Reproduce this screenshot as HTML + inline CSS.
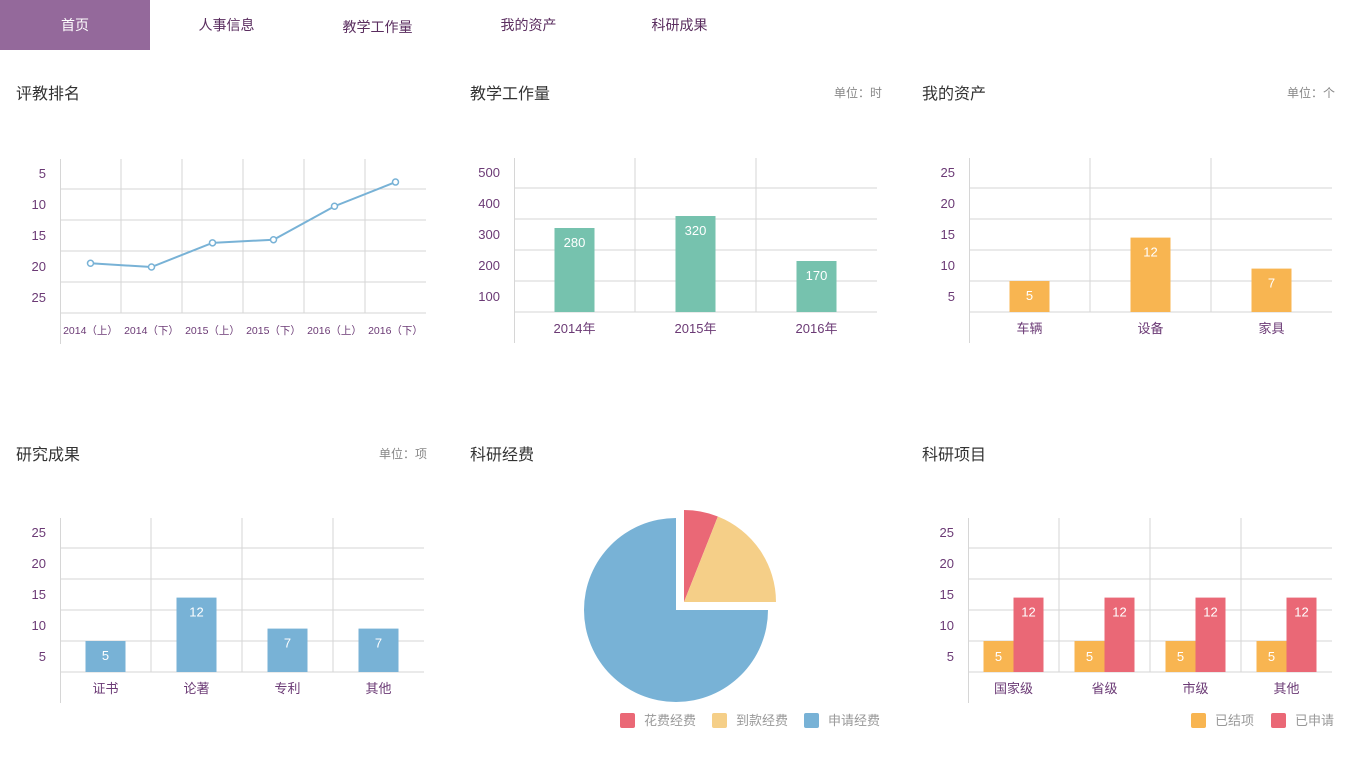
<!DOCTYPE html>
<html><head><meta charset="utf-8">
<style>
body{margin:0;width:1353px;height:770px;background:#fff;font-family:"Liberation Sans","Noto Sans CJK SC",sans-serif;overflow:hidden;position:relative}
.nav{position:absolute;top:0;left:0;height:50px;width:1353px}
.tab{position:absolute;top:0;height:50px;width:151px;line-height:50px;text-align:center;font-size:14px;color:#5a2d5f}
.tab.active{background:#94699b;color:#fff;width:150px}
.title{position:absolute;font-size:16px;color:#333}
.unit{position:absolute;font-size:12px;color:#888}
svg{position:absolute;left:0;top:0}
</style></head><body>
<div class="nav">
<div class="tab active" style="left:0">首页</div>
<div class="tab" style="left:151px">人事信息</div>
<div class="tab" style="left:302px;top:2px">教学工作量</div>
<div class="tab" style="left:453px">我的资产</div>
<div class="tab" style="left:604px">科研成果</div>
</div>
<div class="title" style="left:16px;top:80px">评教排名</div>
<div class="title" style="left:470px;top:80px">教学工作量</div>
<div class="unit" style="left:834px;top:84px">单位：时</div>
<div class="title" style="left:922px;top:80px">我的资产</div>
<div class="unit" style="left:1287px;top:84px">单位：个</div>
<div class="title" style="left:16px;top:441px">研究成果</div>
<div class="unit" style="left:379px;top:445px">单位：项</div>
<div class="title" style="left:470px;top:441px">科研经费</div>
<div class="title" style="left:922px;top:441px">科研项目</div>
<svg id="s" width="1353" height="770"></svg>
<script>
const rankCats=["2014（上）","2014（下）","2015（上）","2015（下）","2016（上）","2016（下）"];
const rankVals=[19.4,20,16.1,15.6,10.2,6.3];
const rankTicks=["5","10","15","20","25"];
const workCats=["2014年","2015年","2016年"];
const workVals=[280,320,170];
const workTicks=["500","400","300","200","100"];
const assetCats=["车辆","设备","家具"];
const assetVals=[5,12,7];
const countTicks=["25","20","15","10","5"];
const resCats=["证书","论著","专利","其他"];
const resVals=[5,12,7,7];
const projCats=["国家级","省级","市级","其他"];
const projDone=[5,5,5,5];
const projApplied=[12,12,12,12];
const pieNames=["花费经费","到款经费","申请经费"];
const pieVals=[6,19,75];
const pieColors=["#ea6876","#f5cf88","#78b2d6"];

const S=document.getElementById('s');
const NS="http://www.w3.org/2000/svg";
function mk(t,a,name,p){const e=document.createElementNS(NS,t);for(const k in a)e.setAttribute(k,a[k]);


(p||S).appendChild(e);return e;}
function txt(x,y,s,name,o){const e=mk('text',Object.assign({x:x,y:y,'font-size':12,fill:'#6b3a75','text-anchor':'middle','font-family':'"Liberation Sans","Noto Sans CJK SC",sans-serif'},o||{}),name);e.textContent=s;return e;}
function grid(x0,x1,bottom,n,ticks,pre){
  for(let k=0;k<5;k++)mk('line',{x1:x0,x2:x1,y1:bottom-31*k,y2:bottom-31*k,stroke:'#d6d6d6'},pre+'-gridline');
  const w=(x1-x0)/n;
  for(let i=1;i<n;i++)mk('line',{x1:x0+w*i,x2:x0+w*i,y1:bottom-154,y2:bottom,stroke:'#d6d6d6'},pre+'-vgrid');
  mk('line',{x1:x0+0.5,x2:x0+0.5,y1:bottom-154,y2:bottom+31,stroke:'#d6d6d6'},pre+'-y-axis');
  ticks.forEach((t,i)=>txt(x0-14,bottom-139+31*i+4,t,pre+'-y-tick',{'text-anchor':'end','font-size':13}));
  return w;
}
(function(){const x0=60,x1=426,b=313;const w=grid(x0,x1,b,6,rankTicks,'ranking');
const y=v=>174+(v-5)*6.2;
const pts=rankVals.map((v,i)=>[x0+w*(i+.5),y(v)]);
mk('polyline',{points:pts.map(p=>p.join(',')).join(' '),fill:'none',stroke:'#78b2d6','stroke-width':2},'ranking-line');
pts.forEach(p=>mk('circle',{cx:p[0],cy:p[1],r:3,fill:'#fff',stroke:'#78b2d6','stroke-width':1.5},'ranking-point'));
rankCats.forEach((c,i)=>txt(x0+w*(i+.5),334,c,'ranking-x-label',{'font-size':10.5}));})();
function bars(x0,x1,b,cats,vals,scale,color,pre,ticks){
  const w=grid(x0,x1,b,cats.length,ticks,pre);
  vals.forEach((v,i)=>{const h=v*scale,cx=x0+w*(i+.5);
    mk('rect',{x:cx-20,y:b-h,width:40,height:h,fill:color},pre+'-bar');
    txt(cx,b-h+19,String(v),pre+'-bar-value',{fill:'#fff',"font-size":13});
    txt(cx,b+21,cats[i],pre+'-x-label',{'font-size':13});});
}
bars(514,877,312,workCats,workVals,0.3,'#76c2ae','workload',workTicks);
bars(969,1332,312,assetCats,assetVals,6.2,'#f8b551','assets',countTicks);
bars(60,424,672,resCats,resVals,6.2,'#78b2d6','research',countTicks);
(function(){const x0=968,x1=1332,b=672;const w=grid(x0,x1,b,4,countTicks,'projects');
projCats.forEach((c,i)=>{const cx=x0+w*(i+.5);
 const h1=projDone[i]*6.2,h2=projApplied[i]*6.2;
 mk('rect',{x:cx-30,y:b-h1,width:30,height:h1,fill:'#f8b551'},'projects-bar-done');
 txt(cx-15,b-h1+20,String(projDone[i]),'projects-done-value',{fill:'#fff','font-size':13});
 mk('rect',{x:cx,y:b-h2,width:30,height:h2,fill:'#ea6876'},'projects-bar-applied');
 txt(cx+15,b-h2+19,String(projApplied[i]),'projects-applied-value',{fill:'#fff','font-size':13});
 txt(cx,b+21,c,'projects-x-label',{'font-size':13});});
[['已结项','#f8b551',1191],['已申请','#ea6876',1271]].forEach(l=>{
 mk('rect',{x:l[2],y:713,width:15,height:15,rx:2,fill:l[1]},'projects-legend-swatch');
 txt(l[2]+24,725,l[0],'projects-legend-label',{'text-anchor':'start',fill:'#999','font-size':13});});})();
(function(){const cx=676,cy=610,r=92,total=pieVals.reduce((a,b)=>a+b,0);let a0=0;
pieVals.forEach((v,i)=>{const a1=a0+v/total*2*Math.PI;
 const off=(i<2)?8:0;const px=cx+off,py=cy-off;
 const p=(a)=>[px+r*Math.sin(a),py-r*Math.cos(a)];
 const s=p(a0),e=p(a1);const large=(a1-a0)>Math.PI?1:0;
 mk('path',{d:`M${px},${py}L${s[0]},${s[1]}A${r},${r} 0 ${large} 1 ${e[0]},${e[1]}Z`,fill:pieColors[i]},'pie-slice-'+i);
 a0=a1;});
pieNames.forEach((n,i)=>{const x=620+92*i;
 mk('rect',{x:x,y:713,width:15,height:15,rx:2,fill:pieColors[i]},'pie-legend-swatch');
 txt(x+24,725,n,'pie-legend-label',{'text-anchor':'start',fill:'#999','font-size':13});});})();
</script>
</body></html>
